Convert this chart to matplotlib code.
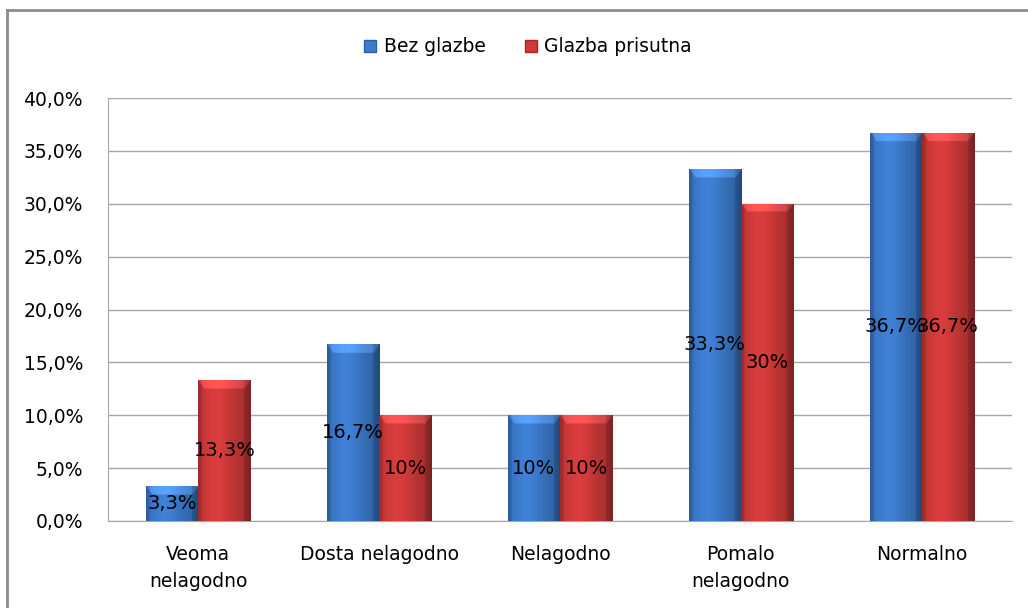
import numpy as np
import matplotlib
matplotlib.use("Agg")
import matplotlib.pyplot as plt
from matplotlib.patches import Patch
from matplotlib.lines import Line2D
from matplotlib.ticker import FuncFormatter
from matplotlib.colors import to_rgb

categories = ["Veoma\nnelagodno", "Dosta nelagodno", "Nelagodno", "Pomalo\nnelagodno", "Normalno"]
series_names = ["Bez glazbe", "Glazba prisutna"]
bez_glazbe = [3.3, 16.7, 10.0, 33.3, 36.7]
glazba_prisutna = [13.3, 10.0, 10.0, 30.0, 36.7]
label_bez = ["3,3%", "16,7%", "10%", "33,3%", "36,7%"]
label_glazba = ["13,3%", "10%", "10%", "30%", "36,7%"]
yticks = [0, 5, 10, 15, 20, 25, 30, 35, 40]

plt.rcParams['font.family'] = ['DejaVu Sans']
FS = 13.5

fig = plt.figure(figsize=(10.28, 6.08), dpi=100)
ax = fig.add_axes([108/1028, 1-521/608, (1012-108)/1028, (521-98)/608])

x = np.arange(len(categories))
w = 0.288

def shade_img(base, h, ncols=60, nrows=300):
    base = np.array(to_rgb(base))
    u = np.linspace(0, 1, ncols)
    prof = 0.80 + 0.25 * np.exp(-((u - 0.35) / 0.35) ** 2)
    prof = np.where(u > 0.88, prof * (0.85 - (u - 0.88) * 1.0), prof)
    prof = np.where(u < 0.06, prof * 0.85, prof)
    yv = np.linspace(h, 0, nrows)
    img = np.ones((nrows, ncols, 3)) * base
    img = img * prof[None, :, None]
    bev = 0.8
    d = (h - yv[:, None]) / bev * 0.12
    top = (yv[:, None] > h - bev) & (u[None, :] > d) & (u[None, :] < 1 - d)
    img = np.where(top[:, :, None], np.clip(img * 1.12 + 0.07, 0, 1), img)
    return np.clip(img, 0, 1)

colors = ["#3c7bcc", "#d03a3a"]
for vals, labs, off, col in [(bez_glazbe, label_bez, -w/2, colors[0]), (glazba_prisutna, label_glazba, w/2, colors[1])]:
    bars = ax.bar(x + off, vals, width=w, color=col, edgecolor='none', zorder=2)
    for b, v, lab in zip(bars, vals, labs):
        x0 = b.get_x()
        im = ax.imshow(shade_img(col, v), extent=(x0, x0 + w, 0, v), aspect='auto', zorder=3,
                       interpolation='bilinear')
        im.set_clip_path(b)
        ax.text(x0 + w/2, v/2, lab, ha='center', va='center', fontsize=14, color='black', zorder=5)

ax.set_xlim(-0.5, len(categories) - 0.5)
ax.set_ylim(0, 40)
ax.set_yticks(yticks)
ax.yaxis.set_major_formatter(FuncFormatter(lambda v, p: f"{v:.1f}%".replace('.', ',')))
ax.set_xticks(x)
ax.set_xticklabels(categories, fontsize=FS, linespacing=1.55)
ax.tick_params(axis='both', length=0, labelsize=FS)
ax.tick_params(axis='y', pad=18)
ax.tick_params(axis='x', pad=17)
ax.grid(axis='y', color='#a6a6a6', linewidth=1, zorder=0)
ax.set_axisbelow(True)
for s in ['right', 'top']:
    ax.spines[s].set_visible(False)
ax.spines['left'].set_color('#a6a6a6')
ax.spines['bottom'].set_color('#a6a6a6')

handles = [Patch(facecolor=colors[0], edgecolor='#2a5ea8'), Patch(facecolor=colors[1], edgecolor='#a02828')]
fig.legend(handles, series_names, loc='center', bbox_to_anchor=(528/1028, 1-47/608), ncol=2,
           frameon=False, fontsize=FS, handlelength=0.65, handleheight=0.65, handletextpad=0.4,
           columnspacing=2.1)

fig.add_artist(Line2D([7/1028, 1.0], [1-10/608, 1-10/608], color='#8c8c8c', linewidth=2, transform=fig.transFigure))
fig.add_artist(Line2D([7/1028, 7/1028], [0.0, 1-10/608], color='#8c8c8c', linewidth=2, transform=fig.transFigure))

fig.savefig("out.png", dpi=100)
